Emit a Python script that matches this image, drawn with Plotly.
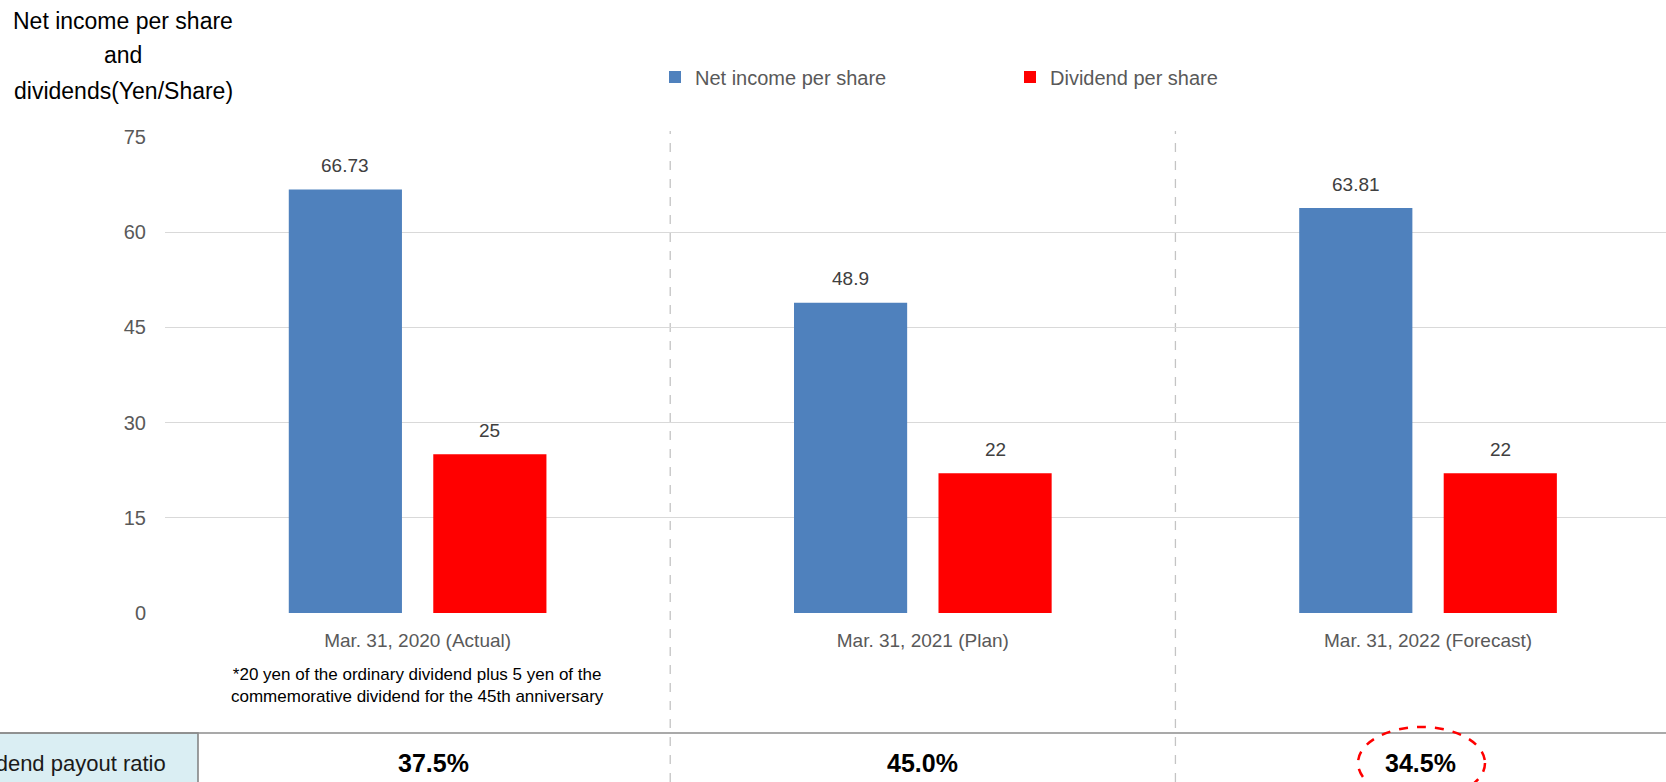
import plotly.graph_objects as go

# ---- data ----
categories = ["Mar. 31, 2020 (Actual)", "Mar. 31, 2021 (Plan)", "Mar. 31, 2022 (Forecast)"]
net_income = [66.73, 48.9, 63.81]
dividend = [25, 22, 22]
payout_ratio = ["37.5%", "45.0%", "34.5%"]
y_ticks = [0, 15, 30, 45, 60, 75]
title_lines = ["Net income per share", "and", "dividends(Yen/Share)"]
footnote = ("*20 yen of the ordinary dividend plus 5 yen of the<br>"
            "commemorative dividend for the 45th anniversary")
ratio_label = "Dividend payout ratio"

# ---- canvas geometry (pixels) ----
W, H = 1666, 782
L, R, T, B = 165, 0, 137, 169
plot_w = W - L - R
plot_h = H - T - B


def px_x(px):
    return (px - L) / plot_w


def px_y(py):
    return (H - B - py) / plot_h


FONT = "Liberation Sans, Arial, sans-serif"
BLUE = "#4F81BD"
RED = "#FF0000"

xs = list(range(len(categories)))
bar_w = 0.224
off = 0.143
x_max = 2.471

fig = go.Figure()
fig.add_trace(go.Bar(
    x=xs, y=net_income, name="Net income per share",
    marker=dict(color=BLUE, line=dict(width=0)),
    width=bar_w, offset=-off - bar_w / 2,
))
fig.add_trace(go.Bar(
    x=xs, y=dividend, name="Dividend per share",
    marker=dict(color=RED, line=dict(width=0)),
    width=bar_w, offset=off - bar_w / 2,
))

annotations = []
# value labels above bars
for series, sign in ((net_income, -1), (dividend, 1)):
    for xi, v in zip(xs, series):
        annotations.append(dict(
            x=xi + sign * off, y=v, xref="x", yref="y", text=f"{v:g}",
            showarrow=False, yshift=24, yanchor="middle",
            font=dict(family=FONT, size=19, color="#404040"),
        ))

# y-axis title, three centred lines
for line, py in zip(title_lines, (21, 55, 91)):
    annotations.append(dict(
        x=px_x(123), y=px_y(py), xref="paper", yref="paper", text=line,
        showarrow=False, xanchor="center", yanchor="middle",
        font=dict(family=FONT, size=23, color="#000000"),
    ))

# footnote under the first category
annotations.append(dict(
    x=0, y=px_y(685), xref="x", yref="paper", text=footnote,
    showarrow=False, xanchor="center", yanchor="middle", align="center",
    font=dict(family=FONT, size=17, color="#000000"),
))

# payout ratio row
col_left = (198 - 418) / 505
col_edges = [col_left, 0.5, 1.5, x_max]
annotations.append(dict(
    x=px_x(168), y=px_y(763), xref="paper", yref="paper", text=ratio_label,
    showarrow=False, xanchor="right", yanchor="middle",
    font=dict(family=FONT, size=22, color="#1a1a1a"),
))
for i, txt in enumerate(payout_ratio):
    annotations.append(dict(
        x=(col_edges[i] + col_edges[i + 1]) / 2, y=px_y(763), xref="x", yref="paper",
        text=f"<b>{txt}</b>", showarrow=False, xanchor="center", yanchor="middle",
        font=dict(family=FONT, size=25, color="#000000"),
    ))

shapes = []
# dashed separators between categories
for xv in (0.5, 1.5):
    shapes.append(dict(
        type="line", xref="x", yref="paper", x0=xv, x1=xv,
        y0=px_y(782), y1=px_y(131),
        line=dict(color="#c4c4c4", width=1.3, dash="dash"), layer="below",
    ))
# table header cell and rule
shapes.append(dict(
    type="rect", xref="paper", yref="paper",
    x0=px_x(-2), x1=px_x(198), y0=px_y(733), y1=px_y(790),
    fillcolor="#DAEEF3", line=dict(color="#7f7f7f", width=1.5),
))
shapes.append(dict(
    type="line", xref="paper", yref="paper",
    x0=px_x(0), x1=px_x(W), y0=px_y(733), y1=px_y(733),
    line=dict(color="#8c8c8c", width=1.5),
))
# highlight around the forecast ratio
shapes.append(dict(
    type="circle", xref="paper", yref="paper",
    x0=px_x(1358), x1=px_x(1485), y0=px_y(727), y1=px_y(799),
    line=dict(color=RED, width=2.5, dash="dash"),
))

fig.update_layout(
    width=W, height=H,
    margin=dict(l=L, r=R, t=T, b=B, pad=0),
    paper_bgcolor="white", plot_bgcolor="white",
    barmode="overlay",
    showlegend=True,
    legend=dict(
        orientation="h", x=px_x(655), y=px_y(77), xanchor="left", yanchor="middle",
        font=dict(family=FONT, size=20, color="#595959"),
        entrywidth=310, itemclick=False, bgcolor="rgba(0,0,0,0)",
    ),
    xaxis=dict(
        range=[-0.5, x_max], tickvals=xs, ticktext=categories,
        showgrid=False, zeroline=False, showline=False, ticks="",
        tickfont=dict(family=FONT, size=19, color="#595959"),
        ticklabelstandoff=14,
    ),
    yaxis=dict(
        range=[0, 75], tickvals=y_ticks, showgrid=True,
        gridcolor="#d9d9d9", gridwidth=1.3, zeroline=False, showline=False,
        ticks="", tickfont=dict(family=FONT, size=20, color="#595959"),
        ticklabelstandoff=18,
    ),
    annotations=annotations,
    shapes=shapes,
    font=dict(family=FONT),
)

fig.write_html("out.html")
